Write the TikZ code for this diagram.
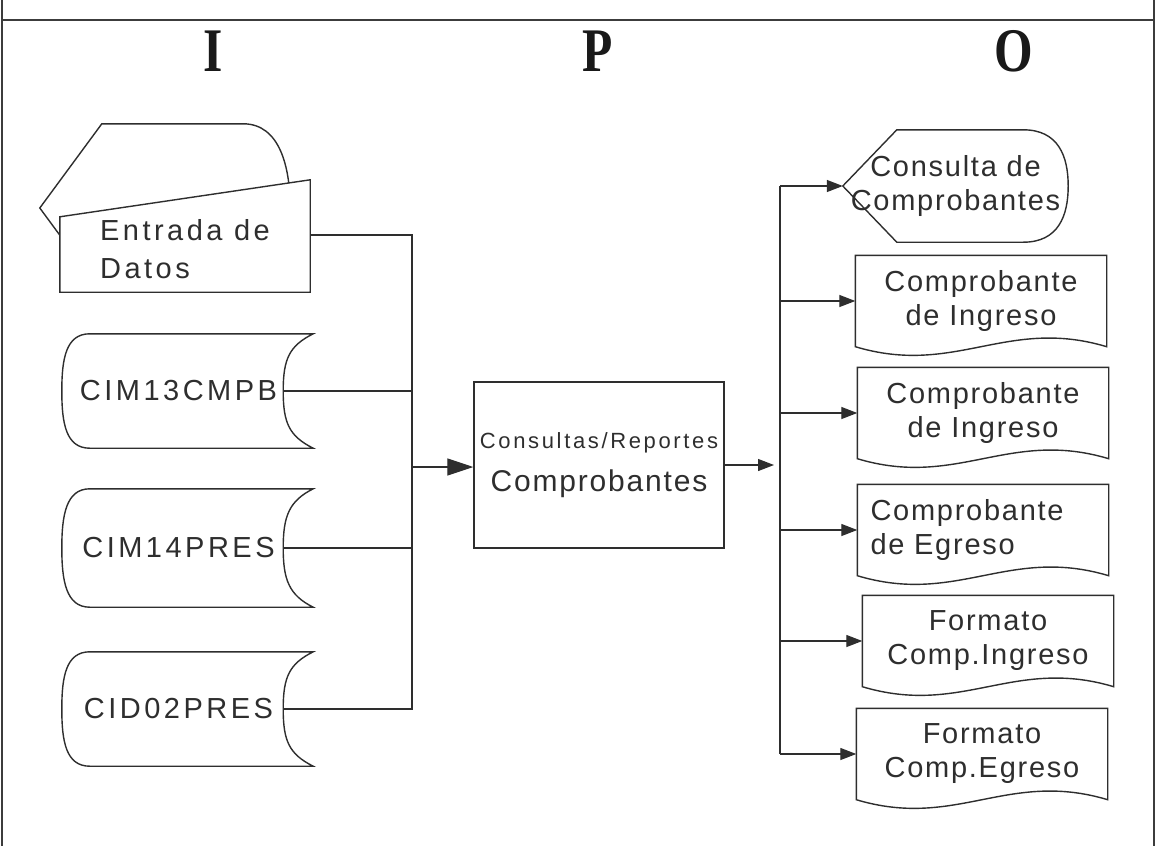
\documentclass[tikz,border=0pt]{standalone}
\usepackage{fontspec}
\setmainfont{Liberation Sans}[LetterSpace=6]
\newfontfamily\widefont{Liberation Sans}[LetterSpace=12]
\newfontfamily\ipofont{Liberation Serif}[FakeStretch=0.8]
\usetikzlibrary{arrows.meta, positioning, calc, backgrounds}
\definecolor{inkgray}{HTML}{2E2E2E}
\definecolor{framegray}{HTML}{3C3C3C}

\tikzset{
  shapeline/.style={draw=inkgray, line width=1.4pt, fill=white},
  flow/.style={draw=inkgray, line width=1.3pt},
  flowarrow/.style={flow, -{Triangle[length=16pt,width=12pt]}},
  bigarrow/.style={flow, -{Triangle[length=26pt,width=17pt]}},
  lbl/.style={text=inkgray, font=\fontsize{29}{34}\selectfont, inner sep=0pt},
  storebox/.style={lbl, font=\widefont\fontsize{29}{34}\selectfont, minimum width=233pt, minimum height=114pt},
  docbox/.style={lbl, minimum width=251pt, minimum height=91pt, align=center},
  ipo/.style={font=\ipofont\bfseries\fontsize{62}{62}\selectfont, text=black!90}
}

\begin{document}
\begin{tikzpicture}[x=1pt, y=-1pt]
  \useasboundingbox (0,0) rectangle (1156,846);

  % Frame
  \draw[framegray, line width=2pt] (2,0) -- (2,846);
  \draw[framegray, line width=2pt] (1154,0) -- (1154,846);
  \draw[framegray, line width=2.5pt] (2,20) -- (1154,20);

  % Headings
  \node[ipo] (hI) at (213,51) {I};
  \node[ipo] (hP) at (598,51) {P};
  \node[ipo] (hO) at (1014,51) {O};

  % Inputs
  \node[lbl, minimum width=250pt, minimum height=168pt] (pantalla) at (165,208) {};
  \node[lbl, font=\widefont\fontsize{29}{38}\selectfont, minimum width=250pt, minimum height=65pt, align=left] (entrada) at (185,249.5) {Entrada de\\Datos};
  \node[storebox] (cim13) at (178.5,391) {CIM13CMPB};
  \node[storebox, minimum height=118pt] (cim14) at (178.5,548) {CIM14PRES};
  \node[storebox] (cid02) at (178.5,709) {CID02PRES};

  % Process
  \node[lbl, draw=inkgray, line width=1.4pt, minimum width=250pt, minimum height=166pt, align=center] (proc) at (599,465)
    {{\widefont\fontsize{22}{26}\selectfont Consultas/Reportes}\\[9pt]{\fontsize{30}{34}\selectfont Comprobantes}};

  % Outputs
  \node[lbl, minimum width=225pt, minimum height=112pt, align=center] (consulta) at (955.5,186) {Consulta de\\Comprobantes};
  \node[docbox] (ingreso1) at (981,301) {Comprobante\\de Ingreso};
  \node[docbox] (ingreso2) at (983,413) {Comprobante\\de Ingreso};
  \node[docbox, text width=225pt, align=left] (egreso) at (983,530) {Comprobante\\de Egreso};
  \node[docbox] (fmtingreso) at (988,641) {Formato\\Comp.Ingreso};
  \node[docbox] (fmtegreso) at (982,754) {Formato\\Comp.Egreso};

  % Outlines
  \begin{scope}[on background layer]
    \draw[shapeline] (pantalla.west) -- ($(pantalla.north west)+(62,0)$) -- ($(pantalla.north east)+(-47,0)$)
      .. controls ($(pantalla.north east)+(-10,0)$) and ($(pantalla.east)+(0,-40)$) .. (pantalla.east)
      .. controls ($(pantalla.east)+(0,40)$) and ($(pantalla.south east)+(-10,0)$) .. ($(pantalla.south east)+(-47,0)$)
      -- ($(pantalla.south west)+(62,0)$) -- cycle;
    \draw[shapeline] ($(entrada.south west)+(0,10)$) -- (entrada.north west) -- ($(entrada.north east)+(0,-37)$)
      -- ($(entrada.south east)+(0,10)$) -- cycle;
    \foreach \n in {cim13, cim14, cid02}
      \draw[shapeline] ($(\n.north west)+(28,0)$) -- ($(\n.north east)+(18,0)$)
        .. controls ($(\n.north east)+(-6,12)$) and ($(\n.east)+(-12,-32)$) .. ($(\n.east)+(-12,0)$)
        .. controls ($(\n.east)+(-12,32)$) and ($(\n.south east)+(-6,-12)$) .. ($(\n.south east)+(18,0)$)
        -- ($(\n.south west)+(28,0)$)
        .. controls ($(\n.south west)+(4,0)$) and ($(\n.west)+(0,32)$) .. (\n.west)
        .. controls ($(\n.west)+(0,-32)$) and ($(\n.north west)+(4,0)$) .. cycle;
    \draw[shapeline] (consulta.west) -- ($(consulta.north west)+(54,0)$) -- ($(consulta.north east)+(-45,0)$)
      .. controls ($(consulta.north east)+(-10,0)$) and ($(consulta.east)+(0,-30)$) .. (consulta.east)
      .. controls ($(consulta.east)+(0,30)$) and ($(consulta.south east)+(-10,0)$) .. ($(consulta.south east)+(-45,0)$)
      -- ($(consulta.south west)+(54,0)$) -- cycle;
    \foreach \n in {ingreso1, ingreso2, egreso, fmtingreso, fmtegreso}
      \draw[shapeline] (\n.south west) -- (\n.north west) -- (\n.north east) -- (\n.south east)
        .. controls ($(\n.south east)+(-100,-30)$) and ($(\n.south west)+(100,30)$) .. cycle;
  \end{scope}

  % Connectors
  \coordinate (busin) at (412,467);
  \coordinate (busout) at (780,467);
  \draw[flow] ([yshift=14.5pt]entrada.east) -| (busin |- cid02.east) -- ([xshift=-12pt]cid02.east);
  \foreach \n in {cim13, cim14}
    \draw[flow] ([xshift=-12pt]\n.east) -- (busin |- \n.east);
  \draw[bigarrow] (busin) -- (busin -| proc.west);
  \draw[flowarrow] (proc.east) -- ($(proc.east -| busout)+(-6,0)$);
  \draw[flow] (busout |- consulta.west) -- (busout |- fmtegreso.west);
  \foreach \n in {consulta, ingreso1, ingreso2, egreso, fmtingreso, fmtegreso}
    \draw[flowarrow] (busout |- \n.west) -- (\n.west);

\end{tikzpicture}
\end{document}
